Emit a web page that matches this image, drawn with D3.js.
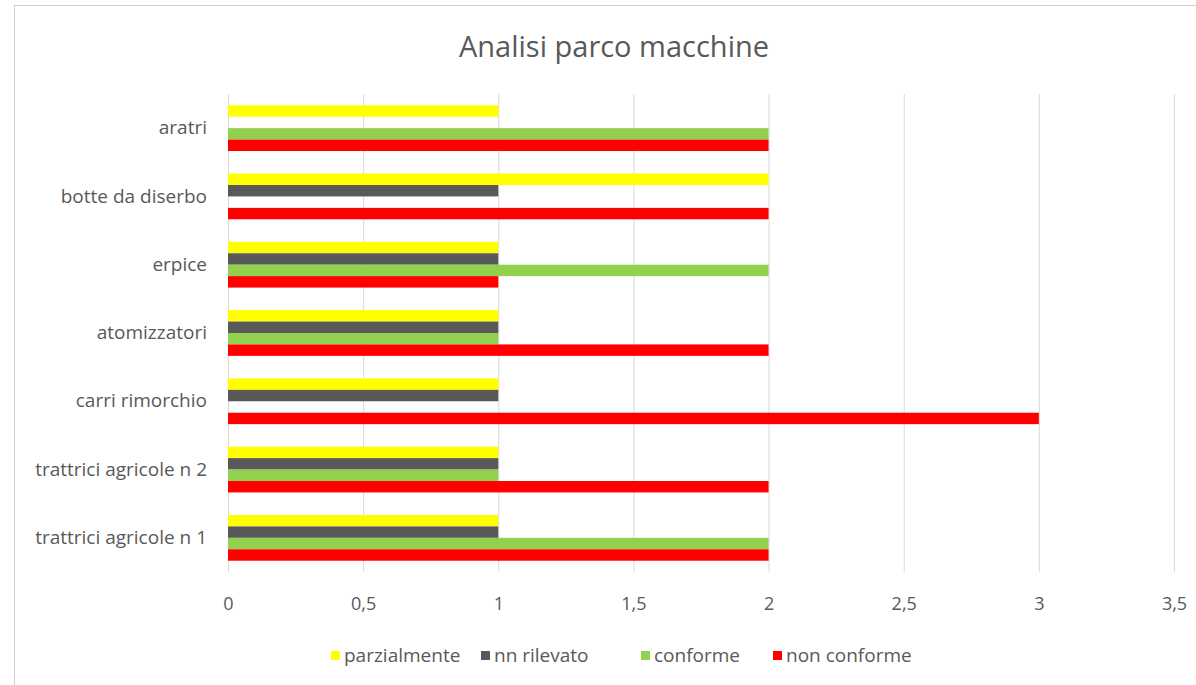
<!DOCTYPE html>
<html>
  <head>
    <title>Analisi parco macchine</title>
    <script src="https://d3js.org/d3.v7.min.js"></script>
    <style>
      body { margin: 0; background: #fff; }
      text { font-family: "Open Sans", Roboto, sans-serif; fill: #595959; }
      .grid line { stroke: #d9d9d9; stroke-width: 1; }
    </style>
  </head>
  <body>
    <svg width="1196" height="685"></svg>
    <script>
      // categories top to bottom, as in the picture
      const categories = ["aratri", "botte da diserbo", "erpice", "atomizzatori",
                          "carri rimorchio", "trattrici agricole n 2", "trattrici agricole n 1"];
      const seriesNames = ["parzialmente", "nn rilevato", "conforme", "non conforme"];
      const seriesColors = ["#ffff00", "#595959", "#92d050", "#ff0000"];

      // one value per category for each series
      const parzialmente = [1, 2, 1, 1, 1, 1, 1];
      const nnRilevato   = [0, 1, 1, 1, 1, 1, 1];
      const conforme     = [2, 0, 2, 1, 0, 1, 2];
      const nonConforme  = [2, 2, 1, 2, 3, 2, 2];
      const seriesValues = [parzialmente, nnRilevato, conforme, nonConforme];

      const xTicks = [0, 0.5, 1, 1.5, 2, 2.5, 3, 3.5];

      const svg = d3.select("svg");

      // chart frame
      svg.append("rect")
          .attr("x", 14.5).attr("y", 5.5)
          .attr("width", 1200).attr("height", 700)
          .attr("fill", "none")
          .attr("stroke", "#d0d0d0");

      const x = d3.scaleLinear()
          .domain([0, 3.5])
          .range([228, 1174]);

      const y0 = d3.scaleBand()
          .domain(categories)
          .range([94, 572])
          .paddingInner(0.33)
          .paddingOuter(0.165);

      const y1 = d3.scaleBand()
          .domain(seriesNames)
          .range([0, y0.bandwidth()]);

      // title
      svg.append("text")
          .attr("x", 614)
          .attr("y", 57)
          .attr("text-anchor", "middle")
          .style("font-size", "29px")
          .text("Analisi parco macchine");

      // vertical gridlines
      svg.append("g")
          .attr("class", "grid")
          .selectAll("line")
          .data(xTicks)
          .enter().append("line")
          .attr("x1", d => x(d) + 0.5)
          .attr("x2", d => x(d) + 0.5)
          .attr("y1", 94)
          .attr("y2", 572);

      // bars
      const rows = [];
      categories.forEach((c, i) => {
        seriesNames.forEach((s, j) => {
          rows.push({ cat: c, series: s, value: seriesValues[j][i], color: seriesColors[j] });
        });
      });

      svg.append("g")
          .selectAll("rect")
          .data(rows.filter(d => d.value > 0))
          .enter().append("rect")
          .attr("x", x(0))
          .attr("y", d => y0(d.cat) + y1(d.series))
          .attr("width", d => x(d.value) - x(0))
          .attr("height", y1.bandwidth())
          .attr("fill", d => d.color);

      // x axis
      const xAxis = d3.axisBottom(x)
          .tickValues(xTicks)
          .tickSize(0)
          .tickPadding(0)
          .tickFormat(d => String(d).replace(".", ","));

      const gx = svg.append("g")
          .attr("transform", "translate(0,597)")
          .call(xAxis);
      gx.select(".domain").remove();
      gx.selectAll("text")
          .style("font-size", "18px")
          .style("font-family", "\"Open Sans\", sans-serif")
          .attr("fill", "#595959")
          .attr("dy", "0.7em");

      // y axis (category labels)
      const yAxis = d3.axisLeft(y0).tickSize(0).tickPadding(0);
      const gy = svg.append("g")
          .attr("transform", "translate(207,0)")
          .call(yAxis);
      gy.select(".domain").remove();
      gy.selectAll("text")
          .style("font-size", "19px")
          .style("font-family", "\"Open Sans\", sans-serif")
          .attr("fill", "#595959");

      // legend
      const legendX = [331, 481, 641, 773];
      const legend = svg.append("g")
          .selectAll("g")
          .data(seriesNames)
          .enter().append("g")
          .attr("transform", (d, i) => `translate(${legendX[i]},655)`);

      legend.append("rect")
          .attr("x", 0).attr("y", -4)
          .attr("width", 9).attr("height", 9)
          .attr("fill", (d, i) => seriesColors[i]);

      legend.append("text")
          .attr("x", 13)
          .attr("y", 0)
          .attr("dy", "0.35em")
          .style("font-size", "19px")
          .text(d => d);
    </script>
  </body>
</html>
